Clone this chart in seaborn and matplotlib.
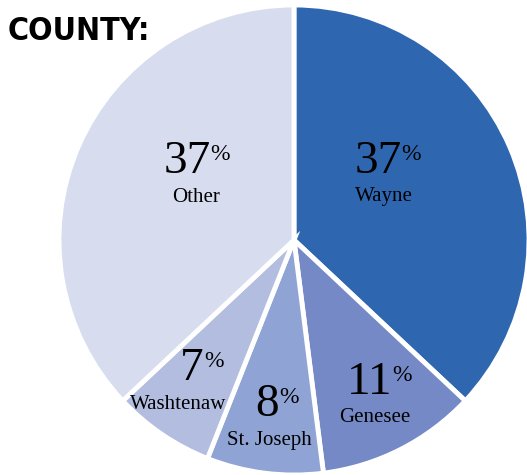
import matplotlib
matplotlib.use("Agg")
import matplotlib.pyplot as plt
import seaborn as sns

# Data
counties = ["Wayne", "Genesee", "St. Joseph", "Washtenaw", "Other"]
shares = [37, 11, 8, 7, 37]
colors = ["#2F66B0", "#7489C5", "#8FA3D4", "#B2BDE0", "#D7DCEF"]

# label placement in pie units (digits center, name center)
pct_pos = [(0.357, 0.332), (0.323, -0.609), (-0.115, -0.702), (-0.434, -0.549), (-0.455, 0.332)]
name_pos = [(0.383, 0.187), (0.345, -0.757), (-0.106, -0.855), (-0.494, -0.698), (-0.417, 0.179)]

sns.set_theme(style="white")
plt.rcParams["font.family"] = ["Liberation Serif", "DejaVu Serif"]

fig = plt.figure(figsize=(5.27, 4.75), dpi=100)
ax = fig.add_axes([59 / 527, 0, 470 / 527, 470 / 475])

ax.pie(shares, colors=colors, startangle=90, counterclock=False,
       wedgeprops=dict(edgecolor="white", linewidth=3.5))
ax.set_xlim(-1, 1)
ax.set_ylim(-1, 1)
ax.set_aspect("equal")
ax.axis("off")

for share, name, (px, py), (nx, ny) in zip(shares, counties, pct_pos, name_pos):
    t = ax.text(px, py, str(share), fontsize=34, ha="center", va="center", color="black")
    ax.annotate("%", xy=(1, 0.93), xycoords=t, xytext=(0, 0), textcoords="offset points",
                fontsize=17, ha="left", va="top", color="black")
    ax.text(nx, ny, name, fontsize=15, ha="center", va="center", color="black")

fig.text(8 / 527, 1 - 32 / 475, "COUNTY:", fontsize=23, fontweight="bold", fontstretch="condensed",
         family=["DejaVu Sans"], ha="left", va="center", color="black")

fig.savefig("out.png", dpi=100)
